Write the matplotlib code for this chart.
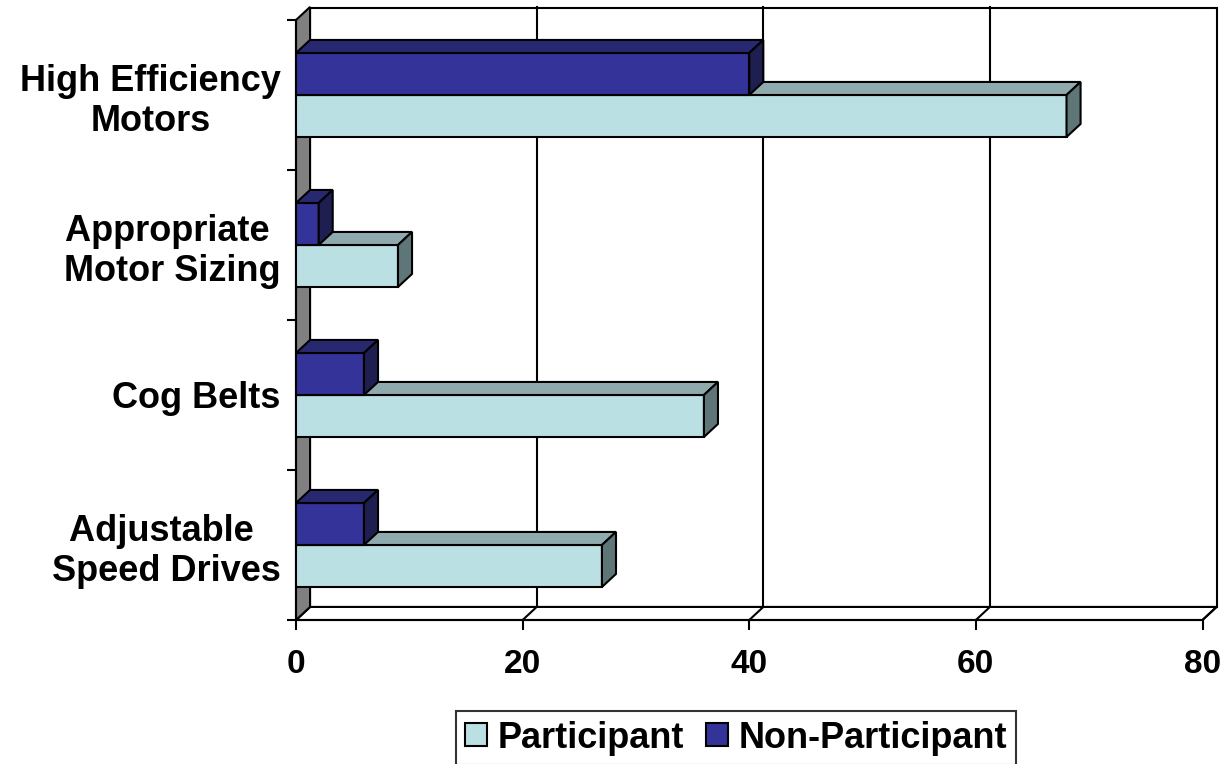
import matplotlib
matplotlib.use("Agg")
import matplotlib.pyplot as plt
from matplotlib.patches import Polygon, Rectangle, Patch

plt.rcParams['font.family'] = ['Liberation Sans', 'DejaVu Sans']
plt.rcParams['font.weight'] = 'bold'

# measures, top to bottom
categories = ["High Efficiency\nMotors", "Appropriate \nMotor Sizing", "Cog Belts", "Adjustable \nSpeed Drives"]
participant = [68, 9, 36, 27]
non_participant = [40, 2, 6, 6]
x_ticks = [0, 20, 40, 60, 80]

# face / top / side shades for each series
part_cols = ("#BBE0E3", "#8FAAAD", "#5F7678")
nonp_cols = ("#333399", "#282870", "#1E1E50")

DX = 1.24   # depth in x units
DY = 0.087  # depth in category units
LW = 1.5

fig = plt.figure(figsize=(12.25, 7.64), dpi=100)
ax = fig.add_axes([296 / 1225, 1 - 620 / 764, 906.5 / 1225, 600 / 764])
ax.set_xlim(0, 80)
ax.set_ylim(4, 0)

# back wall with gridlines
ax.add_patch(Rectangle((DX, -DY + 0.005), 80, 4 - 0.005, facecolor="white", edgecolor="black",
                       lw=LW, clip_on=False, zorder=1))
for x in x_ticks[1:-1]:
    ax.plot([x + DX, x + DX], [-DY, 4 - DY], color="black", lw=LW, clip_on=False, zorder=1.5)

# floor
ax.add_patch(Polygon([(0, 4), (80, 4), (80 + DX, 4 - DY), (DX, 4 - DY)], closed=True,
                     facecolor="white", edgecolor="black", lw=LW, clip_on=False, zorder=1.6))
for x in x_ticks:
    ax.plot([x, x + DX], [4, 4 - DY], color="black", lw=LW, clip_on=False, zorder=1.7)

# left side wall
ax.add_patch(Polygon([(0, 0), (DX, -DY), (DX, 4 - DY), (0, 4)], closed=True,
                     facecolor="#808080", edgecolor="black", lw=LW, clip_on=False, zorder=1.8))


def bar3d(yc, h, v, cols, z):
    y0 = yc - h / 2
    y1 = yc + h / 2
    ax.barh(yc, v, height=h, left=0, color=cols[0], edgecolor="black", lw=LW, zorder=z)
    ax.add_patch(Polygon([(0, y0), (DX, y0 - DY), (v + DX, y0 - DY), (v, y0)], closed=True,
                         facecolor=cols[1], edgecolor="black", lw=LW, clip_on=False, zorder=z))
    ax.add_patch(Polygon([(v, y0), (v + DX, y0 - DY), (v + DX, y1 - DY), (v, y1)], closed=True,
                         facecolor=cols[2], edgecolor="black", lw=LW, clip_on=False, zorder=z))


h = 0.28
for i in range(len(categories)):
    bar3d(i + 0.5 + h / 2, h, participant[i], part_cols, 3 + i)
    bar3d(i + 0.5 - h / 2, h, non_participant[i], nonp_cols, 3.5 + i)

for s in ["top", "right"]:
    ax.spines[s].set_visible(False)
for s in ["left", "bottom"]:
    ax.spines[s].set_linewidth(LW)
    ax.spines[s].set_zorder(2)

ax.set_xticks(x_ticks)
ax.set_xticklabels([str(v) for v in x_ticks])
ax.tick_params(axis="x", length=7, width=LW, pad=14, labelsize=24)
ax.set_yticks([0, 1, 2, 3, 4])
ax.set_yticklabels([])
ax.tick_params(axis="y", which="major", length=6.5, width=LW)
ax.set_yticks([i + 0.5 for i in range(len(categories))], minor=True)
ax.set_yticklabels(categories, minor=True)
ax.tick_params(axis="y", which="minor", length=0, pad=11, labelsize=26)
for lab in ax.get_yticklabels(minor=True):
    lab.set_multialignment("center")
    lab.set_linespacing(1.2)

handles = [Patch(facecolor=part_cols[0], edgecolor="black", lw=LW),
           Patch(facecolor=nonp_cols[0], edgecolor="black", lw=LW)]
leg = fig.legend(handles, ["Participant", "Non-Participant"], loc="center",
                 bbox_to_anchor=(0.601, 0.034), ncol=2, fontsize=26, frameon=True,
                 fancybox=False, edgecolor="black", handlelength=0.6, handleheight=0.6,
                 handletextpad=0.3, columnspacing=0.6, borderpad=0.25, borderaxespad=0)
leg.get_frame().set_linewidth(LW)

fig.savefig("out.png", dpi=100)
